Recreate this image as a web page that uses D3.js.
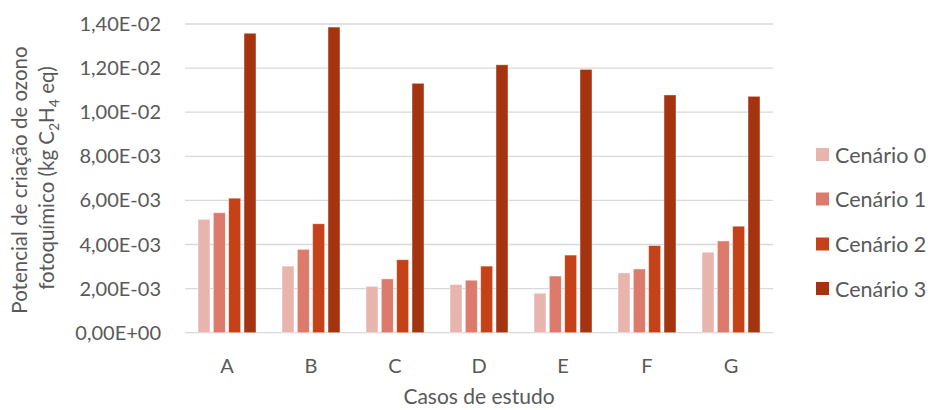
<!DOCTYPE html>
<html><head><meta charset="utf-8">
<script src="https://cdn.jsdelivr.net/npm/d3@7"></script>
<style>body{margin:0;background:#fff}text{font-family:Lato,"Open Sans",sans-serif;fill:#595959}</style>
</head><body><svg id="c" width="931" height="410"></svg>
<script>
const categories = ["A","B","C","D","E","F","G"];
const seriesNames = ["Cenário 0","Cenário 1","Cenário 2","Cenário 3"];
const cenario0 = [5.14e-3, 3.02e-3, 2.10e-3, 2.18e-3, 1.79e-3, 2.71e-3, 3.65e-3];
const cenario1 = [5.44e-3, 3.78e-3, 2.44e-3, 2.38e-3, 2.57e-3, 2.89e-3, 4.16e-3];
const cenario2 = [6.10e-3, 4.94e-3, 3.31e-3, 3.02e-3, 3.52e-3, 3.95e-3, 4.83e-3];
const cenario3 = [13.58e-3, 13.86e-3, 11.31e-3, 12.15e-3, 11.94e-3, 10.78e-3, 10.72e-3];
const yTicks = [0, 2e-3, 4e-3, 6e-3, 8e-3, 10e-3, 12e-3, 14e-3];
const yTickLabels = ["0,00E+00","2,00E-03","4,00E-03","6,00E-03","8,00E-03","1,00E-02","1,20E-02","1,40E-02"];
const colors = ["#E8B4AE","#DC7B6C","#C54218","#A5330F"];
const series = [cenario0, cenario1, cenario2, cenario3];

const svg = d3.select("#c");
const pLeft = 185, pRight = 773, pTop = 24, pBottom = 332.7;
const x = d3.scaleBand().domain(categories).range([pLeft, pRight]).paddingInner(0.31).paddingOuter(0.155);
const x1 = d3.scaleBand().domain(d3.range(4)).range([0, x.bandwidth()]).paddingInner(0.22);
const y = d3.scaleLinear().domain([0, 14e-3]).range([pBottom, pTop]);

// gridlines
svg.append("g").selectAll("line").data(yTicks).join("line")
  .attr("x1", pLeft).attr("x2", pRight)
  .attr("y1", d => y(d)).attr("y2", d => y(d))
  .attr("stroke", "#D9D9D9").attr("stroke-width", 1.3);

// y tick labels
svg.append("g").selectAll("text").data(yTicks).join("text")
  .attr("x", 161).attr("y", d => y(d)).attr("dy", "0.35em")
  .attr("text-anchor", "end").attr("font-size", 20)
  .text((d, i) => yTickLabels[i]);

// bars
const g = svg.append("g");
categories.forEach((c, ci) => {
  series.forEach((s, si) => {
    g.append("rect")
      .attr("x", x(c) + x1(si)).attr("width", x1.bandwidth())
      .attr("y", y(s[ci])).attr("height", y(0) - y(s[ci]))
      .attr("fill", colors[si]).attr("stroke", "#fff").attr("stroke-opacity", 0.5).attr("stroke-width", 0.8);
  });
});

// x labels
svg.append("g").selectAll("text").data(categories).join("text")
  .attr("x", d => x(d) + x.bandwidth() / 2).attr("y", 366).attr("dy", "0.35em")
  .attr("text-anchor", "middle").attr("font-size", 20).text(d => d);

svg.append("text").attr("x", 479).attr("y", 397).attr("dy", "0.35em")
  .attr("text-anchor", "middle").attr("font-size", 21).text("Casos de estudo");

// y title
const yt = svg.append("text").attr("transform", "translate(0,180) rotate(-90)")
  .attr("text-anchor", "middle").attr("font-size", 20.5);
yt.append("tspan").attr("x", 0).attr("y", 27).text("Potencial de criação de ozono");
const yt2 = svg.append("text").attr("transform", "translate(0,178) rotate(-90)")
  .attr("text-anchor", "middle").attr("font-size", 20.5).attr("x", 0).attr("y", 54);
yt2.append("tspan").text("fotoquímico (kg C");
yt2.append("tspan").attr("font-size", 14).attr("dy", 5).text("2");
yt2.append("tspan").attr("dy", -5).text("H");
yt2.append("tspan").attr("font-size", 14).attr("dy", 5).text("4");
yt2.append("tspan").attr("dy", -5).text(" eq)");

// legend
const leg = svg.append("g");
const legY = [155, 199.5, 244.5, 289];
seriesNames.forEach((n, i) => {
  leg.append("rect").attr("x", 816).attr("y", legY[i] - 7).attr("width", 13).attr("height", 13).attr("fill", colors[i]);
  leg.append("text").attr("x", 835).attr("y", legY[i]).attr("dy", "0.35em").attr("font-size", 21.5).text(n);
});
</script></body></html>
